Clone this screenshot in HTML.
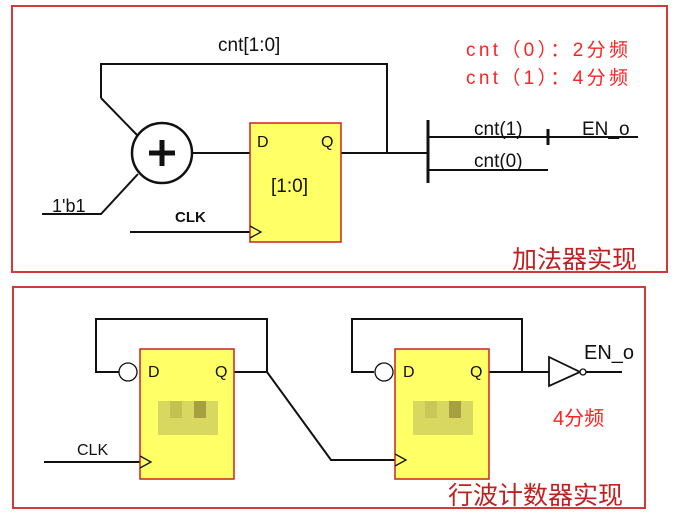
<!DOCTYPE html>
<html><head><meta charset="utf-8"><style>
html,body{margin:0;padding:0;background:#fff;}
svg{display:block;font-family:"Liberation Sans","Noto Sans CJK SC",sans-serif;}
</style></head><body>
<svg width="683" height="515" viewBox="0 0 683 515" xmlns="http://www.w3.org/2000/svg">
<g fill="none" stroke="#d23a3a" stroke-width="2">
<rect x="12" y="6" width="655" height="266"/>
<rect x="13" y="287" width="632" height="221"/>
</g>
<g stroke="#111" stroke-width="2" fill="none">
<polyline points="101,98 101,64 387,64 387,153"/>
<line x1="101" y1="98" x2="137" y2="135"/>
<circle cx="162" cy="153" r="30" stroke-width="2.5"/>
<line x1="192" y1="153" x2="250" y2="153"/>
<line x1="341" y1="153" x2="428" y2="153"/>
<line x1="428" y1="120" x2="428" y2="183" stroke-width="3"/>
<line x1="428" y1="137" x2="638" y2="137"/>
<line x1="548" y1="129" x2="548" y2="145" stroke-width="3"/>
<line x1="428" y1="170" x2="548" y2="170"/>
<polyline points="42,214 101,214 138,174"/>
<line x1="130" y1="232" x2="250" y2="232"/>
<polyline points="119,372 96,372 96,319 267,319 267,372 234,372"/>
<polyline points="267,372 331,460 395,460"/>
<polyline points="374,372 352,372 352,319 522,319 522,372"/>
<line x1="489" y1="372" x2="549" y2="372"/>
<line x1="586" y1="372" x2="622" y2="372"/>
<line x1="44" y1="462" x2="140" y2="462"/>
</g>
<line x1="162" y1="140" x2="162" y2="166" stroke="#111" stroke-width="5"/>
<line x1="149" y1="153" x2="175" y2="153" stroke="#111" stroke-width="5"/>
<rect x="250" y="123" width="91" height="119" fill="#ffff66" stroke="#cc2222" stroke-width="1.5"/>
<rect x="140" y="349" width="94" height="130" fill="#ffff66" stroke="#cc2222" stroke-width="1.5"/>
<rect x="395" y="349" width="94" height="130" fill="#ffff66" stroke="#cc2222" stroke-width="1.5"/>
<g fill="none" stroke="#111" stroke-width="1.3">
<polyline points="250,226 261,232 250,238"/>
<polyline points="140,456 151,462 140,468"/>
<polyline points="395,454 406,460 395,466"/>
<circle cx="128" cy="372" r="9" fill="#fff"/>
<circle cx="384" cy="372" r="9" fill="#fff"/>
<polygon points="549,357 549,386 580,372" fill="#fff" stroke-width="1.8"/>
<circle cx="583" cy="372" r="3" fill="#fff"/>
</g>
<g>
<rect x="158" y="401" width="60" height="34" fill="#d8d860"/>
<rect x="170" y="401" width="12" height="17" fill="#c2c250"/>
<rect x="194" y="401" width="12" height="17" fill="#a8a040"/>
<rect x="413" y="401" width="60" height="34" fill="#d8d860"/>
<rect x="425" y="401" width="12" height="17" fill="#c8c858"/>
<rect x="449" y="401" width="12" height="17" fill="#a8a040"/>
</g>
<g fill="#111" font-size="16">
<text x="218" y="51" font-size="19">cnt[1:0]</text>
<text x="257" y="147">D</text>
<text x="321" y="147">Q</text>
<text x="271" y="192" font-size="19">[1:0]</text>
<text x="474" y="135" font-size="19">cnt(1)</text>
<text x="582" y="135" font-size="19">EN_o</text>
<text x="474" y="167" font-size="19">cnt(0)</text>
<text x="52" y="212" font-size="18">1'b1</text>
<text x="175" y="222" font-size="15" font-weight="bold">CLK</text>
<text x="148" y="377">D</text>
<text x="215" y="377">Q</text>
<text x="403" y="377">D</text>
<text x="470" y="377">Q</text>
<text x="584" y="359" font-size="20">EN_o</text>
<text x="77" y="455" font-size="16">CLK</text>
</g>
<g fill="#ff2222" font-size="19">
<text x="466" y="56" textLength="162" lengthAdjust="spacing">cnt（0）：2分频</text>
<text x="466" y="84" textLength="162" lengthAdjust="spacing">cnt（1）：4分频</text>
<text x="553" y="425" font-size="20">4分频</text>
</g>
<text x="512" y="268" font-size="25" fill="#c02020">加法器实现</text>
<text x="448" y="504" font-size="25" fill="#c02020">行波计数器实现</text>
</svg>
</body></html>
